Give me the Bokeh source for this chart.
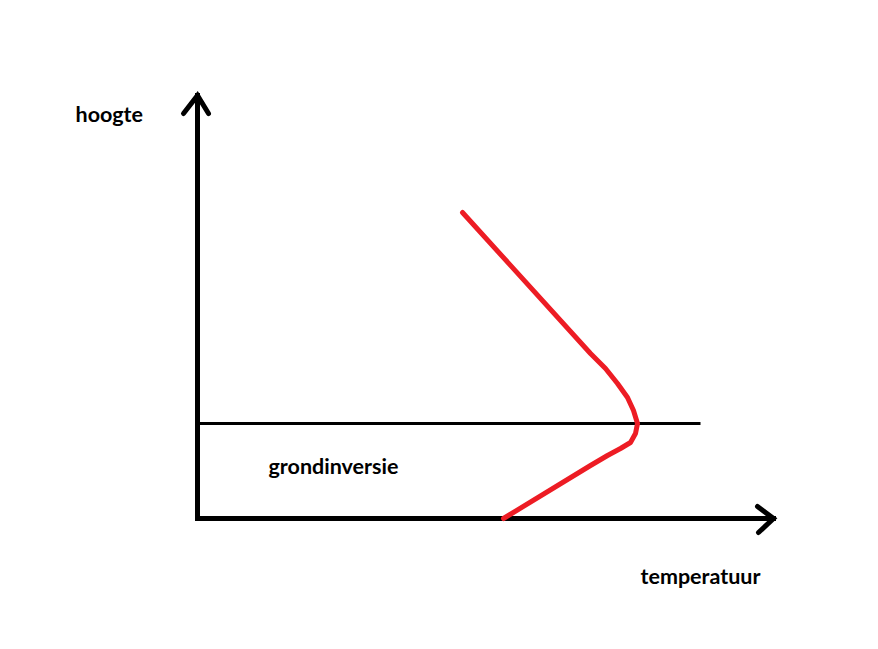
from bokeh.plotting import figure
from bokeh.models import Range1d
from bokeh.core.properties import value
from bokeh.embed import file_html
from bokeh.resources import INLINE

# Temperature profile (arbitrary units) with ground inversion
temperature = [265, 393, 408, 420, 430, 436, 440, 438, 433, 423, 410, 393, 306]
height = [306, 165, 150, 135, 121, 108, 95, 85, 76, 70, 63, 53, 0]

inversion_height = 95
inversion_extent = [0, 503]

x_axis_end = 576
y_axis_end = 423

labels = ["hoogte", "grondinversie", "temperatuur"]
label_x = [-122, 71, 443]
label_y = [405, 53, -57]

p = figure(width=862, height=633, output_backend="svg", toolbar_location=None,
           x_range=Range1d(-197, 665), y_range=Range1d(-115, 518),
           x_axis_type=None, y_axis_type=None, min_border=0,
           outline_line_color=None, background_fill_color="white",
           border_fill_color="white")
p.xgrid.visible = False
p.ygrid.visible = False

# axes
p.line([0, 0], [0, y_axis_end], line_color="black", line_width=5, line_cap="square")
p.line([0, x_axis_end], [0, 0], line_color="black", line_width=5, line_cap="square")
# arrowheads
p.line([-14, 0, 11], [y_axis_end - 18, y_axis_end, y_axis_end - 18],
       line_color="black", line_width=5, line_cap="round", line_join="miter")
p.line([x_axis_end - 16, x_axis_end, x_axis_end - 15], [12, 0, -14],
       line_color="black", line_width=5, line_cap="round", line_join="miter")

# inversion line
p.line(inversion_extent, [inversion_height, inversion_height], line_color="black", line_width=3)

# temperature curve
p.line(temperature, height, line_color="#ED1C24", line_width=5,
       line_cap="round", line_join="round")

p.text(label_x, label_y, text=labels, text_font=value("Lato"), text_font_style="bold",
       text_font_size="21.5px", text_color="black", text_baseline="middle", text_align="left")

open("out.html", "w").write(file_html(p, INLINE))
